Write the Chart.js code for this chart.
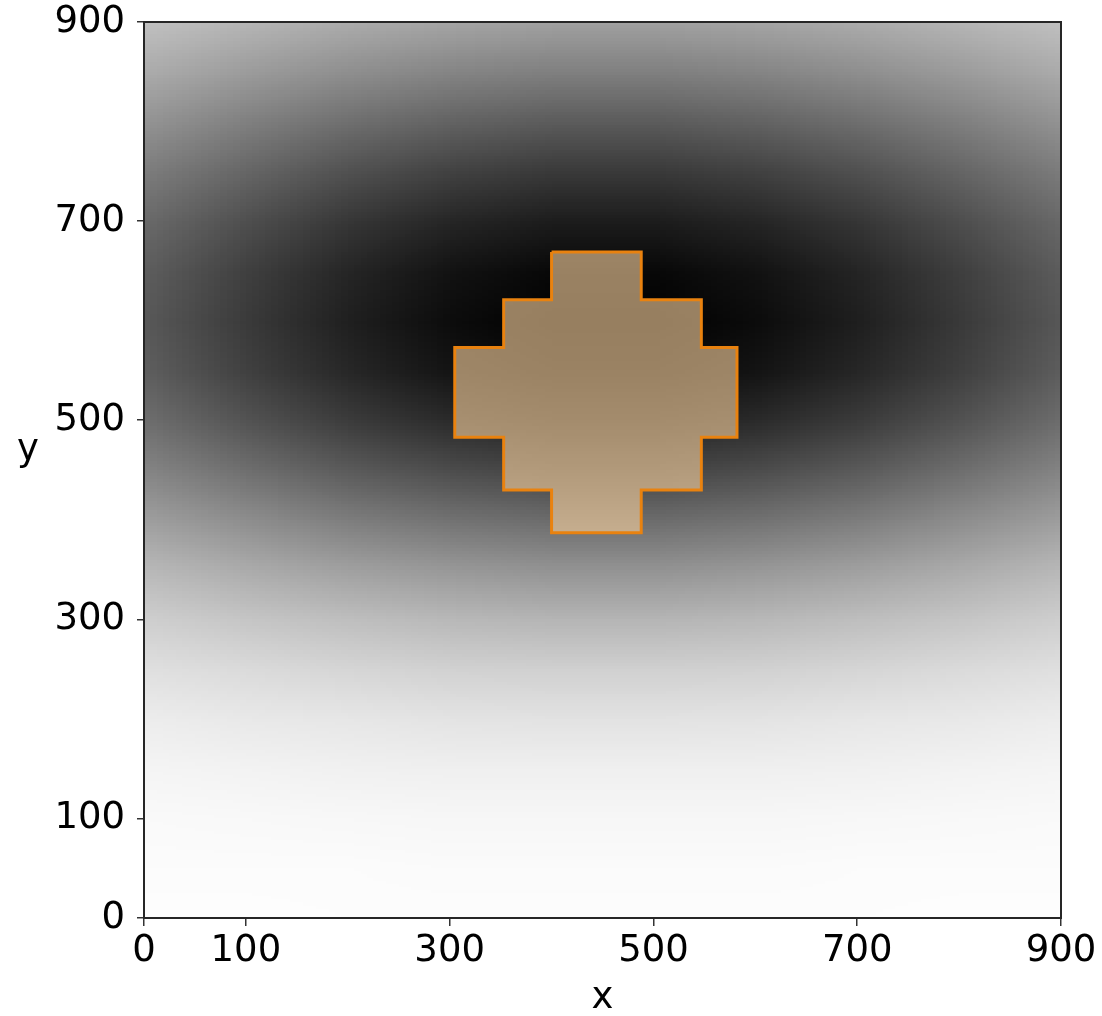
<!DOCTYPE html>
<html><head><meta charset="utf-8">
<script src="https://cdn.jsdelivr.net/npm/chart.js@4.4.1/dist/chart.umd.min.js"></script>
<style>html,body{margin:0;padding:0;background:#fff;}</style>
</head><body>
<canvas id="c" width="1102" height="1016" style="display:block;width:1102px;height:1016px"></canvas>
<script>
// ---- tick labels ----
const xTicks = [0, 100, 300, 500, 700, 900];
const yTicks = [0, 100, 300, 500, 700, 900];

// ---- background field: gray levels (0=black, 255=white) sampled at grid nodes ----
const gridX = [0, 100, 200, 300, 400, 500, 600, 700, 800, 900];
const gridY = [0, 50, 100, 150, 200, 250, 300, 350, 400, 450, 500, 550, 600, 650, 700, 750, 800, 850, 900];
// one row per gridY value (bottom to top), one entry per gridX value
const grayRows = [
  [254,254,253,253,253,253,253,253,254,254],
  [252,252,252,251,251,251,251,252,252,252],
  [250,249,248,247,247,247,247,248,249,250],
  [245,243,241,240,240,240,240,241,243,245],
  [237,233,231,228,227,227,228,231,233,237],
  [224,219,214,210,209,209,210,214,219,224],
  [207,198,191,185,182,182,185,191,198,207],
  [185,172,161,153,148,148,153,161,172,185],
  [159,142,126,115,109,109,115,126,142,159],
  [133,111, 91, 77, 69, 69, 77, 91,111,133],
  [110, 83, 60, 43, 34, 34, 43, 60, 83,110],
  [ 94, 64, 39, 20, 10, 10, 20, 39, 64, 94],
  [ 88, 58, 31, 12,  1,  1, 12, 31, 58, 88],
  [ 93, 63, 37, 18,  8,  8, 18, 37, 63, 93],
  [105, 78, 54, 37, 28, 28, 37, 54, 78,105],
  [124,101, 80, 65, 57, 57, 65, 80,101,124],
  [147,127,110, 98, 91, 91, 98,110,127,147],
  [171,155,142,132,127,127,132,142,155,171],
  [192,181,171,164,160,160,164,171,181,192]
];

// ---- polygon (region outline) ----
const polyX = [400,488,488,547,547,582,582,547,547,488,488,400,400,353,353,305,305,353,353,400,400];
const polyY = [669,669,621,621,573,573,483,483,430,430,387,387,430,430,483,483,573,573,621,621,669];

const xTitle = 'x';
const yTitle = 'y';

const FONT = {family: 'DejaVu Sans', size: 37};

const bgPlugin = {
  id: 'bgField',
  beforeDatasetsDraw(chart) {
    const {ctx, chartArea: a, scales: {x, y}} = chart;
    const cols = gridX.length, rows = gridY.length;
    const off = document.createElement('canvas');
    off.width = cols; off.height = rows;
    const octx = off.getContext('2d');
    const img = octx.createImageData(cols, rows);
    for (let r = 0; r < rows; r++) {
      const src = grayRows[rows - 1 - r];
      for (let c = 0; c < cols; c++) {
        const i = (r * cols + c) * 4;
        img.data[i] = img.data[i + 1] = img.data[i + 2] = src[c];
        img.data[i + 3] = 255;
      }
    }
    octx.putImageData(img, 0, 0);
    const hx = (gridX[1] - gridX[0]) / 2, hy = (gridY[1] - gridY[0]) / 2;
    const left = x.getPixelForValue(gridX[0] - hx), right = x.getPixelForValue(gridX[cols - 1] + hx);
    const top = y.getPixelForValue(gridY[rows - 1] + hy), bottom = y.getPixelForValue(gridY[0] - hy);
    ctx.save();
    ctx.beginPath(); ctx.rect(a.left, a.top, a.right - a.left, a.bottom - a.top); ctx.clip();
    ctx.imageSmoothingEnabled = true;
    ctx.drawImage(off, left, top, right - left, bottom - top);
    ctx.restore();
  },
  afterDraw(chart) {
    const {ctx, chartArea: a} = chart;
    ctx.save();
    ctx.strokeStyle = '#262626';
    ctx.lineWidth = 2;
    ctx.strokeRect(a.left, a.top, a.right - a.left, a.bottom - a.top);
    ctx.fillStyle = '#000';
    ctx.font = FONT.size + 'px "' + FONT.family + '"';
    ctx.textAlign = 'center';
    ctx.textBaseline = 'alphabetic';
    ctx.fillText(xTitle, (a.left + a.right) / 2, a.bottom + 90);
    ctx.fillText(yTitle, 28, (a.top + a.bottom) / 2 - 10);
    ctx.restore();
  }
};

const tickCfg = {
  color: '#000', font: FONT, autoSkip: false, maxRotation: 0,
  callback: v => String(v)
};

new Chart(document.getElementById('c'), {
  type: 'scatter',
  data: {
    datasets: [{
      data: polyX.map((v, i) => ({x: v, y: polyY[i]})),
      showLine: true,
      fill: 'shape',
      tension: 0,
      pointRadius: 0,
      borderColor: '#e9820f',
      borderWidth: 3,
      borderJoinStyle: 'miter',
      backgroundColor: 'rgba(252,212,160,0.6)'
    }]
  },
  options: {
    responsive: false,
    animation: false,
    devicePixelRatio: 1,
    layout: {padding: {top: 22, right: 41, left: 0, bottom: 0}},
    plugins: {legend: {display: false}, tooltip: {enabled: false}},
    scales: {
      x: {
        type: 'linear', min: 0, max: 900,
        afterBuildTicks: s => { s.ticks = xTicks.map(v => ({value: v})); },
        afterFit: s => { s.height = 98; s.paddingLeft = 0; s.paddingRight = 0; },
        grid: {drawOnChartArea: false, drawTicks: true, tickLength: 8, color: '#333', lineWidth: 1.5},
        border: {display: false},
        ticks: Object.assign({padding: 3}, tickCfg)
      },
      y: {
        type: 'linear', min: 0, max: 900,
        afterBuildTicks: s => { s.ticks = yTicks.map(v => ({value: v})); },
        afterFit: s => { s.width = 144; s.paddingTop = 0; s.paddingBottom = 0; },
        grid: {drawOnChartArea: false, drawTicks: true, tickLength: 7, color: '#333', lineWidth: 1.5},
        border: {display: false},
        ticks: Object.assign({padding: 12}, tickCfg)
      }
    }
  },
  plugins: [bgPlugin]
});
</script>
</body></html>
